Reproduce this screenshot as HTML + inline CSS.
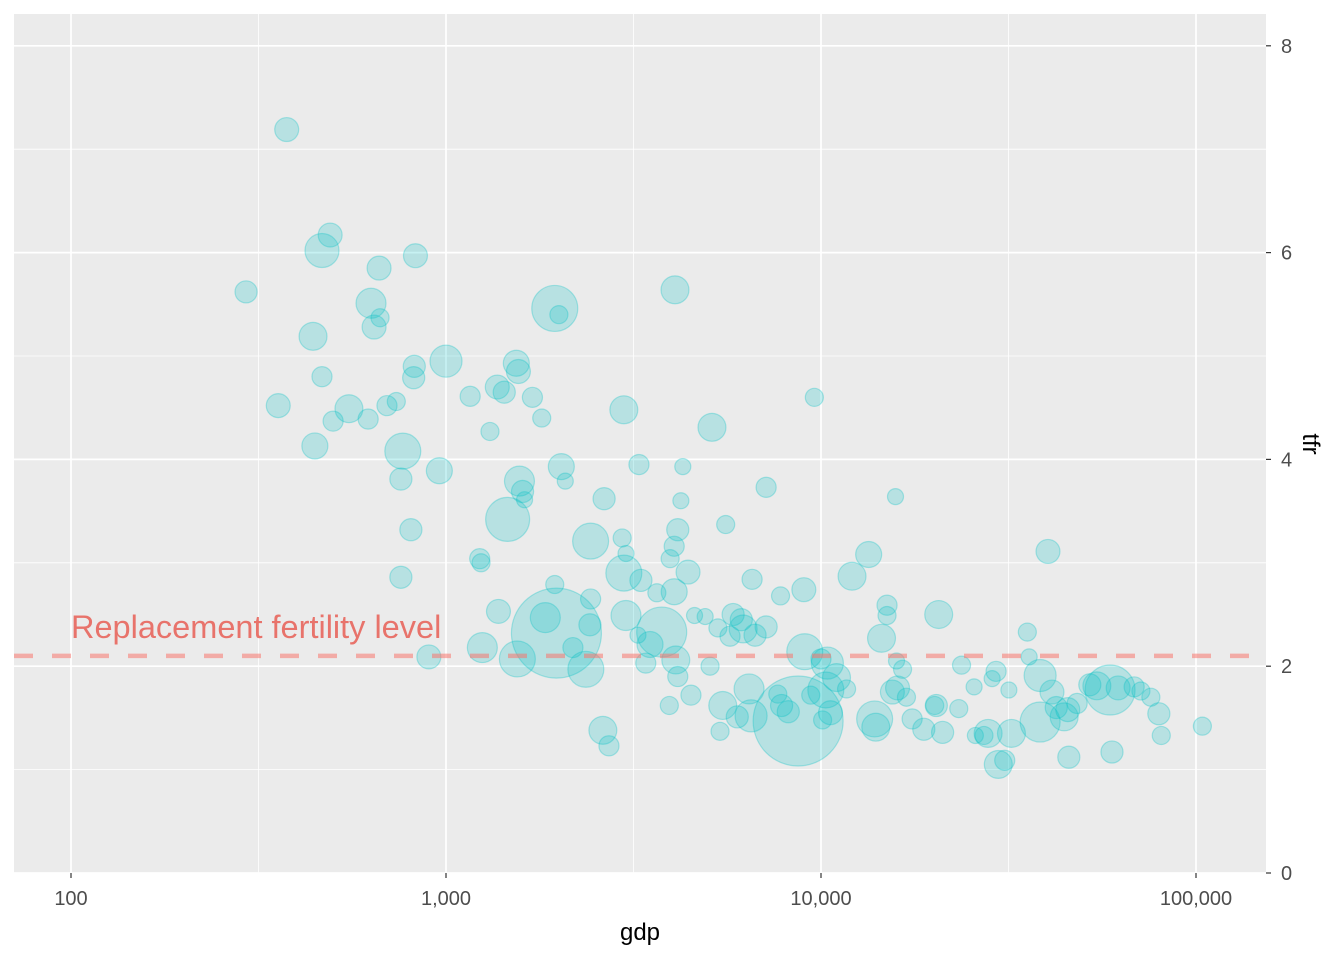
<!DOCTYPE html>
<html><head><meta charset="utf-8"><style>
html,body{margin:0;padding:0;background:#fff;}
svg{display:block;font-family:"Liberation Sans",Arial,sans-serif;}
</style></head><body>
<svg id="chart" width="1344" height="960" viewBox="0 0 1344 960" xmlns="http://www.w3.org/2000/svg">
<rect x="14" y="14" width="1252" height="859" fill="#EBEBEB"/>
<g id="grid"></g>
<g id="pts"></g>
<g id="ref"></g>
<g id="axes"></g>
</svg>
<script>
const gdp=[376,293,467,491,663,829,442,631,643,667,467,357,551,500,620,696,737,447,767,823,820,1000,960,758,806,758,900,
1160,1310,1370,1430,1540,1560,1700,1800,1950,2000,1230,1240,1570,1600,1620,1460,1380,1250,1550,1840,1970,1950,2030,2080,2180,2360,2420,2430,2430,2640,2620,2720,2950,2980,3020,2980,3020,3270,3310,3250,3410,3500,3760,3650,3960,4060,4080,4150,4230,4280,4060,4420,3940,4100,4150,4500,4600,4910,5060,5120,5310,5570,5380,5470,5720,5830,5980,6130,6200,6430,6550,6510,6670,7140,7140,7670,7800,7850,8180,8690,9000,9050,9390,9600,
10000,10400,10100,10300,10600,11000,11700,12100,13400,13900,14000,14500,15000,15000,15500,15800,15900,16000,16500,16900,17500,18800,20100,20300,20600,21100,23300,23700,25600,25800,27200,27900,29300,28600,29700,30900,31700,32200,35500,35900,38400,38400,40300,41300,42400,44500,45500,45800,48200,52100,54400,59000,59700,62000,68400,71300,75800,79600,80800,104000];
const tfr=[7.19,5.62,6.02,6.17,5.85,5.97,5.19,5.51,5.28,5.37,4.80,4.52,4.49,4.37,4.39,4.52,4.56,4.13,4.08,4.90,4.79,4.95,3.89,3.81,3.32,2.86,2.09,
4.61,4.27,4.70,4.65,4.93,4.85,4.60,4.40,5.46,5.40,3.04,3.00,3.79,3.69,3.61,3.42,2.53,2.18,2.07,2.47,2.32,2.79,3.93,3.79,2.18,1.97,2.40,3.21,2.65,3.62,1.38,1.23,3.24,4.48,3.09,2.90,2.49,3.95,2.83,2.30,2.03,2.21,2.33,2.71,3.04,3.16,5.64,3.32,3.60,3.93,2.72,2.91,1.62,2.06,1.90,1.72,2.49,2.48,2.00,4.31,2.37,3.37,1.37,1.62,2.29,2.50,1.51,2.45,2.36,1.78,2.84,1.52,2.30,3.73,2.38,1.73,2.68,1.62,1.56,1.47,2.74,2.14,1.72,4.60,
2.07,2.03,1.48,1.77,1.55,1.89,1.78,2.87,3.08,1.49,1.41,2.27,2.59,2.49,1.75,3.64,2.05,1.79,1.97,1.70,1.49,1.39,1.62,1.62,2.50,1.36,1.59,2.01,1.80,1.33,1.33,1.35,1.95,1.88,1.05,1.09,1.77,1.35,2.33,2.09,1.91,1.46,3.11,1.75,1.60,1.51,1.58,1.12,1.64,1.82,1.81,1.77,1.17,1.79,1.80,1.76,1.70,1.54,1.33,1.42];
const pop=[24,16,97,24,24,24,47,62,24,4,9,24,47,9,9,9,4,35,117,16,16,79,35,16,16,16,24,
9,4,24,16,35,24,9,4,248,4,9,4,62,16,1,218,24,62,117,62,1400,4,35,1,9,117,16,117,9,16,47,9,4,47,1,117,62,9,16,1,9,35,314,4,4,9,47,16,1,1,35,24,4,47,9,9,1,1,4,47,4,4,4,47,9,16,16,16,47,62,9,79,16,9,16,4,4,16,16,1400,24,117,4,4,
9,79,4,117,24,47,4,47,35,117,47,47,9,4,24,1,1,24,4,4,9,16,4,16,47,16,4,4,1,1,4,47,9,1,47,9,1,47,4,1,79,164,24,24,16,47,24,16,9,16,47,314,16,24,9,4,4,16,4,4];
const xTicks=[100,1000,10000,100000];
const xTickLabels=["100","1,000","10,000","100,000"];
const yTicks=[0,2,4,6,8];
const yTickLabels=["0","2","4","6","8"];
const refValue=[2.1];
const refLabel=["Replacement fertility level"];

const NS="http://www.w3.org/2000/svg";
const L=14,R=1266,T=14,B=873;
const X=v=>71+375*(Math.log10(v)-2);
const Y=v=>873-103.4*v;
const Rr=p=>7+38*Math.sqrt(p/1400);
function mk(tag,attrs,parent){const e=document.createElementNS(NS,tag);for(const k in attrs)e.setAttribute(k,attrs[k]);parent.appendChild(e);return e;}
const grid=document.getElementById('grid');
[316.23,3162.3,31623].forEach(v=>{const e=mk('line',{x1:X(v),x2:X(v),y1:T,y2:B,stroke:'#fff','stroke-width':0.8},grid);

});
[1,3,5,7].forEach(v=>{const e=mk('line',{x1:L,x2:R,y1:Y(v),y2:Y(v),stroke:'#fff','stroke-width':0.8},grid);

});
xTicks.forEach(v=>{const e=mk('line',{x1:X(v),x2:X(v),y1:T,y2:B,stroke:'#fff','stroke-width':1.7},grid);

});
yTicks.forEach(v=>{const e=mk('line',{x1:L,x2:R,y1:Y(v),y2:Y(v),stroke:'#fff','stroke-width':1.7},grid);

});
const pts=document.getElementById('pts');
gdp.forEach((g,i)=>{const c=mk('circle',{cx:X(g),cy:Y(tfr[i]),r:Rr(pop[i]),fill:'#00BFC4','fill-opacity':0.22,stroke:'#00BFC4','stroke-opacity':0.3,'stroke-width':1.2},pts);

});
const ref=document.getElementById('ref');
const rl=mk('line',{x1:L,x2:R,y1:Y(refValue[0]),y2:Y(refValue[0]),stroke:'#F8766D','stroke-opacity':0.55,'stroke-width':4.5,'stroke-dasharray':'19,19'},ref);


const rt=mk('text',{x:71,y:Y(refValue[0])-18,fill:'#E8736B','font-size':32.5},ref);
rt.textContent=refLabel[0];


const axes=document.getElementById('axes');
xTicks.forEach((v,i)=>{const t=mk('line',{x1:X(v),x2:X(v),y1:B,y2:B+5,stroke:'#333','stroke-width':1.2},axes);


const s=mk('text',{x:X(v),y:905,'text-anchor':'middle','font-size':20,fill:'#4D4D4D'},axes);s.textContent=xTickLabels[i];

});
yTicks.forEach((v,i)=>{const t=mk('line',{x1:R,x2:R+5,y1:Y(v),y2:Y(v),stroke:'#333','stroke-width':1.2},axes);


const s=mk('text',{x:1281,y:Y(v)+7,'font-size':20,fill:'#4D4D4D'},axes);s.textContent=yTickLabels[i];

});
const xt=mk('text',{x:640,y:940,'text-anchor':'middle','font-size':24,fill:'#000'},axes);xt.textContent='gdp';


const yt=mk('text',{x:1303,y:444,'text-anchor':'middle','font-size':24,fill:'#000',transform:'rotate(90 1303 444)'},axes);yt.textContent='tfr';


</script>
</body></html>
